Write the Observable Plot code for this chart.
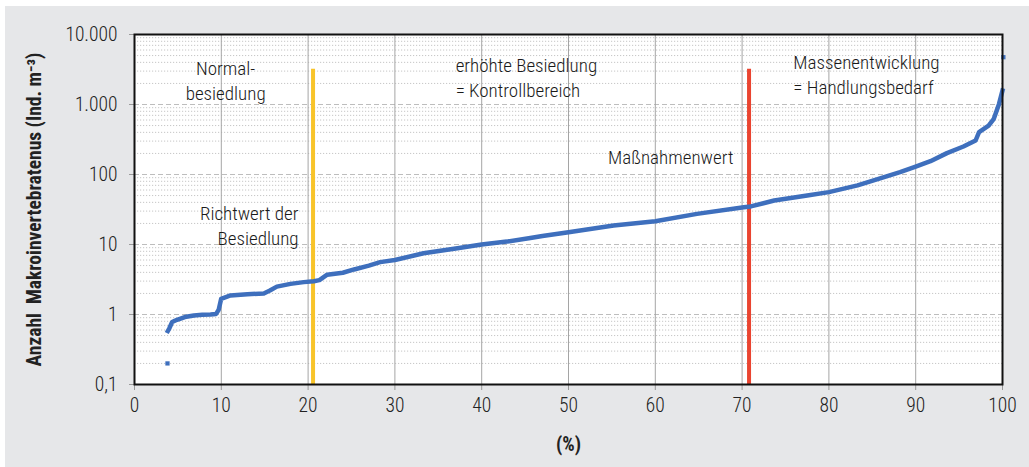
<!DOCTYPE html>
<html>
<head>
<meta charset="utf-8">
<script src="https://cdn.jsdelivr.net/npm/d3@7"></script>
<script src="https://cdn.jsdelivr.net/npm/@observablehq/plot@0.6"></script>
<style>
  html, body { margin: 0; padding: 0; background: #ffffff; }
  #wrap { position: relative; width: 1029px; height: 467px; overflow: hidden; }
  #bg { position: absolute; left: 5px; top: 6px; right: 0; bottom: 0; background: #e6e7e9; }
  #chart { position: absolute; left: 0; top: 0; }
  #chart text { font-weight: 300; }
  #chart g[aria-label="y-axis label"] text,
  #chart g[aria-label="x-axis label"] text { font-weight: bold; font-size: 19.5px; }
</style>
</head>
<body>
<div id="wrap"><div id="bg"></div><div id="chart"></div></div>
<script>
// ---- data ----
const pct = [3.84, 4.0, 4.34, 4.9, 5.8, 6.84, 7.8, 8.76, 9.4, 9.7, 9.98, 11.06, 13.0, 14.9, 15.6, 16.4, 17.97, 19.5, 20.66, 21.3, 22.2, 24.0, 25.3, 27.0, 28.3, 30.0, 33.3, 37.2, 40.0, 42.9, 45.6, 47.0, 50.0, 55.2, 60.0, 64.8, 70.2, 71.0, 73.7, 77.5, 80.0, 83.3, 85.9, 88.2, 90.0, 91.7, 93.6, 95.5, 96.9, 97.3, 98.4, 99.0, 99.6, 100.0];
const abundance = [0.58, 0.63, 0.78, 0.84, 0.92, 0.97, 0.99, 1.0, 1.02, 1.17, 1.67, 1.87, 1.95, 2.0, 2.2, 2.5, 2.74, 2.9, 2.99, 3.1, 3.7, 3.95, 4.4, 5.0, 5.6, 6.0, 7.5, 8.85, 10, 11, 12.4, 13.2, 15, 18.7, 21.5, 27.4, 34, 35, 42.5, 50, 56, 70, 88, 108, 130, 155, 202, 251, 306, 403, 500, 624, 1020, 1585];
const outlierPct = [3.8, 100.1];
const outlierAbundance = [0.2, 4740];

const thresholdNames = ["Richtwert", "Maßnahmenwert"];
const thresholdPct = [20.57, 70.8];
const thresholdTop = [3200, 3200];
const thresholdColors = ["#f8c42a", "#ea4430"];

const xTicks = [0, 10, 20, 30, 40, 50, 60, 70, 80, 90, 100];
const xGrid = [10, 20, 30, 40, 50, 60, 70, 80, 90];
const yTicks = [0.1, 1, 10, 100, 1000, 10000];
const yTickLabels = ["0,1", "1", "10", "100", "1.000", "10.000"];

const noteTexts = ["Normal-\nbesiedlung", "erhöhte Besiedlung\n= Kontrollbereich", "Massenentwicklung\n= Handlungsbedarf", "Maßnahmenwert", "Richtwert der\nBesiedlung"];
const noteX = [10.5, 37.0, 75.9, 69.0, 18.9];
const noteY = [4620, 5100, 5630, 248, 39.3];
const noteAnchor = ["middle", "start", "start", "end", "end"];

// ---- derived tables ----
const curve = pct.map((p, i) => ({p, v: abundance[i]}));
const outliers = outlierPct.map((p, i) => ({p, v: outlierAbundance[i]}));
const thresholds = thresholdNames.map((n, i) => ({n, p: thresholdPct[i], top: thresholdTop[i], c: thresholdColors[i]}));
const notes = noteTexts.map((t, i) => ({t, x: noteX[i], y: noteY[i], a: noteAnchor[i]}));
const majorGrid = yTicks.slice(1, -1);
const minorGrid = [];
for (let e = -1; e < 4; e++) for (let m = 2; m <= 9; m++) minorGrid.push(m * Math.pow(10, e));
const labelOf = new Map(yTicks.map((t, i) => [t, yTickLabels[i]]));

const FONT = '"Roboto Condensed", "DejaVu Sans Condensed", sans-serif';
const noteMarks = ["start", "middle", "end"].map(a =>
  Plot.text(notes.filter(d => d.a === a), {x: "x", y: "y", text: "t", textAnchor: a, lineAnchor: "top", lineHeight: 1.29, fill: "#1a1a1a", fontSize: 19}));

const chart = Plot.plot({
  width: 1029,
  height: 467,
  marginLeft: 134, marginRight: 27, marginTop: 34, marginBottom: 83,
  style: {fontFamily: FONT, fontSize: "19px", background: "transparent", color: "#222", overflow: "visible"},
  x: {domain: [0, 100]},
  y: {type: "log", domain: [0.1, 10000]},
  marks: [
    Plot.frame({fill: "white", stroke: "none"}),
    Plot.gridY(minorGrid, {stroke: "#c6c6c6", strokeOpacity: 1, strokeDasharray: "1.2,1.8"}),
    Plot.gridY(majorGrid, {stroke: "#bdbdbd", strokeOpacity: 1, strokeDasharray: "5,3"}),
    Plot.gridX(xGrid, {stroke: "#a5a5a5", strokeOpacity: 1}),
    Plot.axisX({ticks: xTicks, tickSize: 6, tickPadding: 8, stroke: "#999", fill: "#222", fontSize: 19.5, label: "(%)", labelAnchor: "center", labelOffset: 66, labelArrow: "none"}),
    Plot.axisY({ticks: yTicks, tickFormat: d => labelOf.get(d), tickSize: 5, tickPadding: 12, stroke: "#999", fill: "#222", fontSize: 19.5,
      label: "Anzahl  Makroinvertebratenus (Ind. m⁻³)", labelAnchor: "center", labelOffset: 107, labelArrow: "none"}),
    Plot.ruleX(thresholds, {x: "p", y1: 0.1, y2: "top", stroke: "c", strokeWidth: 4}),
    Plot.line(curve, {x: "p", y: "v", stroke: "#3e6fbd", strokeWidth: 4.5, strokeLinejoin: "round", strokeLinecap: "square"}),
    Plot.dot(outliers, {x: "p", y: "v", symbol: "square", r: 2.4, fill: "#3e6fbd", stroke: "none"}),
    ...noteMarks,
    Plot.frame({stroke: "#111", strokeWidth: 2})
  ]
});
document.getElementById("chart").appendChild(chart);
</script>
</body>
</html>
